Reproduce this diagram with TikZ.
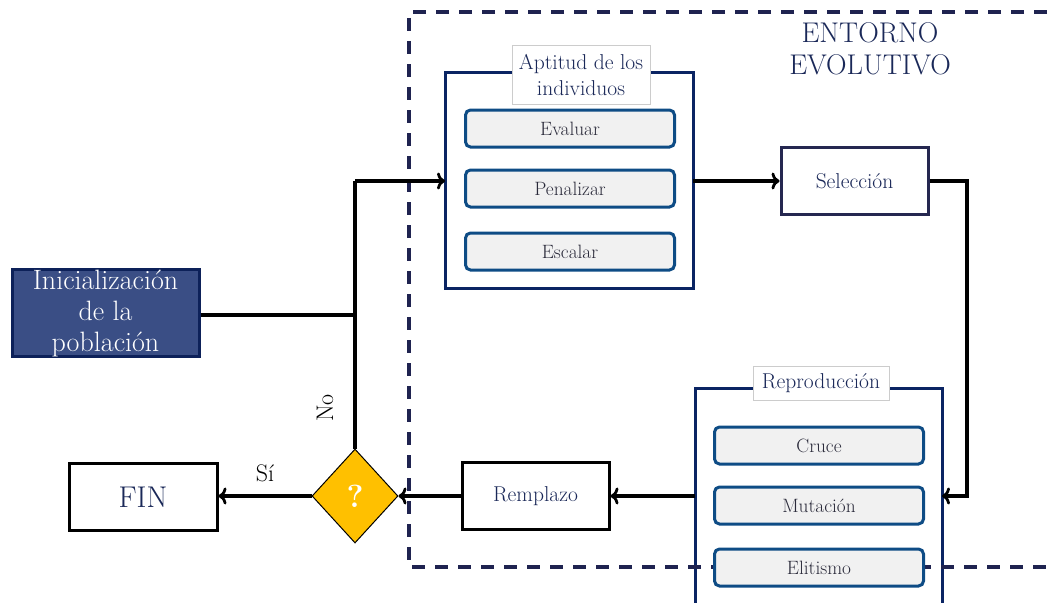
\documentclass[tikz,border=0pt]{standalone}
\usetikzlibrary{shapes.geometric,arrows.meta}
\definecolor{navytext}{HTML}{1A2858}
\definecolor{initfill}{HTML}{3A4E85}
\definecolor{initdraw}{HTML}{0D2159}
\definecolor{groupdraw}{HTML}{0A2463}
\definecolor{subdraw}{HTML}{0E4C85}
\definecolor{subfill}{HTML}{F1F1F1}
\definecolor{dashcol}{HTML}{1F2350}
\definecolor{gold}{HTML}{FFC000}
\definecolor{labgray}{HTML}{CCCCCC}
\definecolor{subtext}{HTML}{2A2A3A}
\definecolor{selcol}{HTML}{252850}
\tikzset{
  px/.style={x=1pt,y=-1pt},
  group/.style={draw=groupdraw,line width=3pt},
  grouplabel/.style={draw=labgray,line width=0.8pt,fill=white,text=navytext,align=center,font=\fontsize{21.5}{26}\selectfont,inner sep=4pt},
  subbox/.style={draw=subdraw,fill=subfill,line width=3pt,rounded corners=5pt,minimum width=209pt,minimum height=37pt,text=subtext,font=\fontsize{19.3}{22}\selectfont},
  procbox/.style={draw=black,line width=3pt,fill=white,minimum width=147pt,minimum height=67pt,text=navytext,font=\fontsize{21.5}{26}\selectfont},
  flow/.style={line width=3.2pt,draw=black},
  arr/.style={flow,-{To[length=8pt,width=17pt,line width=2.8pt]}},
  flowlabel/.style={text=black,font=\fontsize{24}{28}\selectfont},
}
\begin{document}
\begin{tikzpicture}[px]
\useasboundingbox (0,0) rectangle (1054,602);
\clip (0,0) rectangle (1054,602);
% Reproduccion group (no fill, behind dashed frame)
\draw[group] (695,620) -- (695,388) -- (942,388) -- (942,620);
% dashed environment frame
\draw[dashcol,line width=4pt,dash pattern=on 13pt off 10pt] (1070,12) -- (409,12) -- (409,567) -- (1070,567);
\node[text=navytext,align=center,font=\fontsize{28.5}{32}\selectfont] (env) at (870,49) {ENTORNO\\EVOLUTIVO};
% Aptitud group
\draw[group] (445,72) rectangle (693,288);
\coordinate (aptL) at (445,181);
\coordinate (aptR) at (693,181);
\node[grouplabel,minimum width=138pt,minimum height=59pt] (aptlab) at (581,75) {Aptitud de los\\individuos};
\node[subbox] (eval) at (570,128.5) {Evaluar};
\node[subbox] (pen) at (570,188.5) {Penalizar};
\node[subbox] (esc) at (570,251.5) {Escalar};
% Reproduccion contents
\coordinate (repL) at (695,496);
\coordinate (repR) at (942,496);
\node[grouplabel,minimum width=136pt,minimum height=34pt] (replab) at (821,383) {Reproducción};
\node[subbox] (cruce) at (819,445.5) {Cruce};
\node[subbox] (mut) at (819,505.5) {Mutación};
\node[subbox] (elit) at (819,567.5) {Elitismo};
% process boxes
\node[procbox,draw=selcol] (sel) at (854.5,181) {Selección};
\node[procbox] (rem) at (535.5,496) {Remplazo};
\node[procbox,minimum width=148pt,font=\fontsize{30}{34}\selectfont] (fin) at (143,497) {FIN};
\node[draw=initdraw,fill=initfill,line width=3pt,minimum width=187pt,minimum height=82pt,text=white,align=center,font=\fontsize{28}{31}\selectfont,inner sep=0pt] (init) at (105.5,313) {Inicialización\\de la\\población};
\node[diamond,draw=black,line width=1pt,fill=gold,minimum width=86pt,minimum height=94pt,inner sep=0pt,text=white,font=\fontsize{32}{32}\bfseries\selectfont] (dec) at (355,496) {?};
% connectors
\coordinate (top) at (355,181);
\draw[arr] (aptR) -- (sel.west);
\draw[arr] (sel.east) -| (967,496) -- (repR);
\draw[arr] (repL) -- (rem.east);
\draw[arr] (rem.west) -- (dec.east);
\draw[arr] (dec.west) -- node[above=9pt,flowlabel] (si) {Sí} (dec.west -| fin.east);
\draw[flow] (dec.north) -- (top);
\draw[arr] (top) -- (aptL);
\draw[flow] (init.east) ++(0,2) -- (355,315);
\node[rotate=90,flowlabel] (no) at (325,408) {No};
\end{tikzpicture}
\end{document}
